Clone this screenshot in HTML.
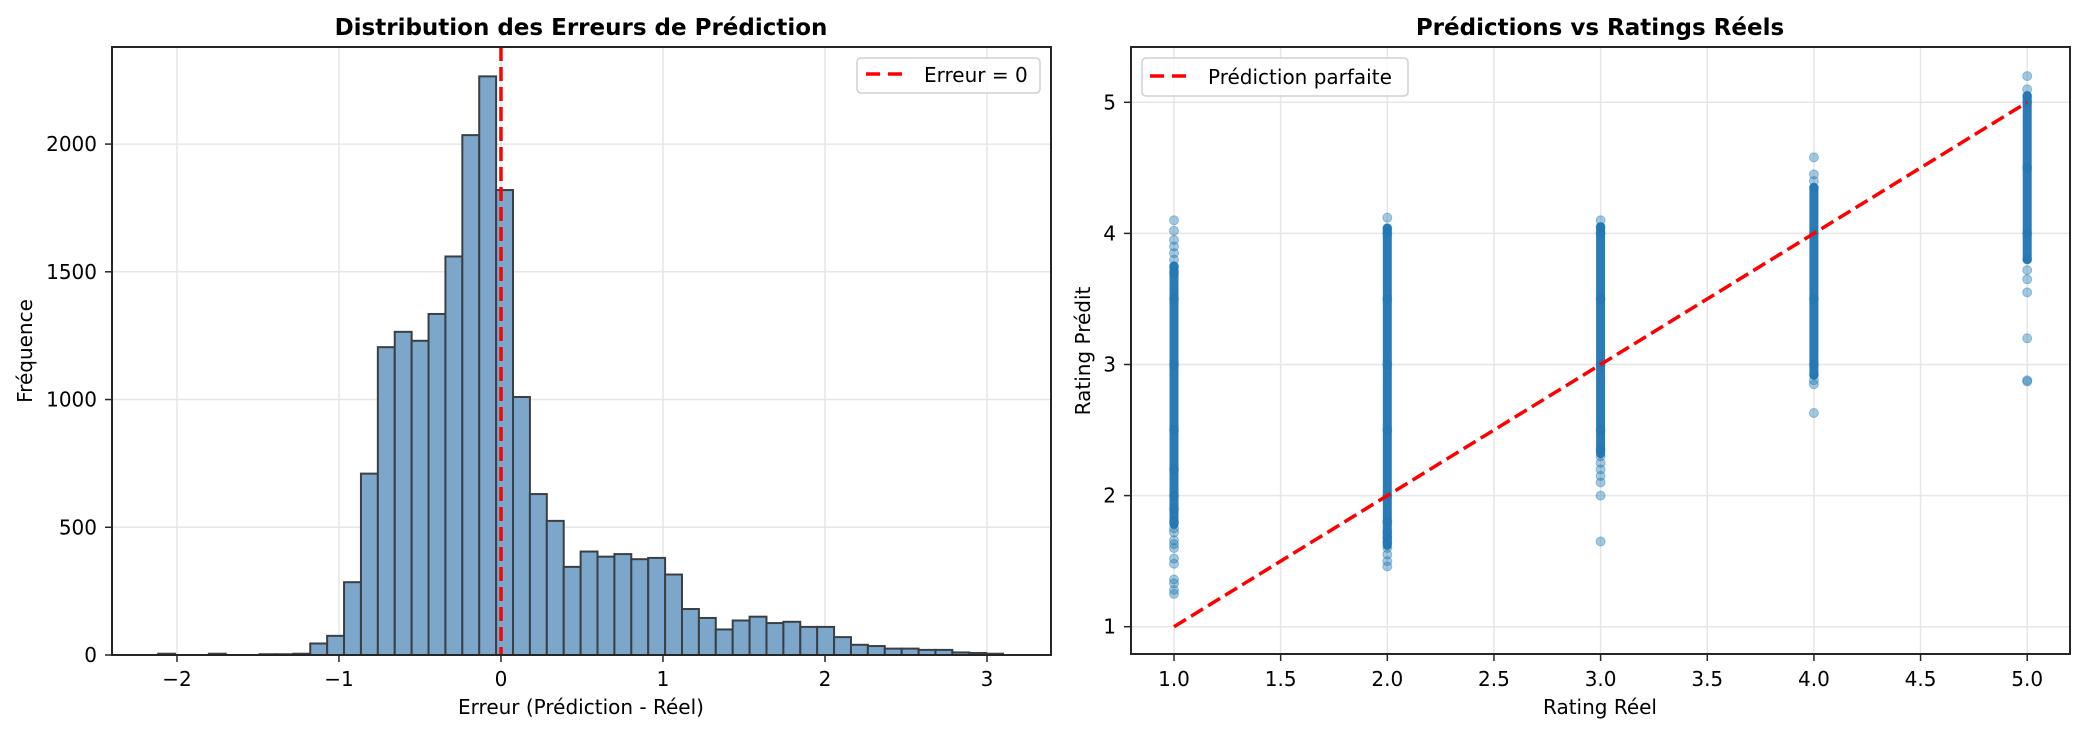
<!DOCTYPE html>
<html><head><meta charset="utf-8"><style>
body{margin:0;background:#fff;}
svg{display:block;font-family:"DejaVu Sans","Liberation Sans",sans-serif;}
</style></head><body>
<svg id="fig" width="2084" height="734" viewBox="0 0 2084 734"></svg>
<script>
// ---------- Histogram data ----------
const histBinStart = -2.116;
const histBinWidth = 0.1043;
const histCounts = [5,0,0,5,0,0,3,3,5,45,75,285,710,1205,1265,1230,1335,1560,2035,2265,1820,1010,630,525,345,405,385,395,375,380,315,180,145,100,135,150,125,130,110,110,70,40,35,25,25,20,20,10,8,5];
const histXTicks = [-2,-1,0,1,2,3];
const histYTicks = [0,500,1000,1500,2000];
// ---------- Scatter data ----------
const ratings = [1,2,3,4,5];
const coreLow = [1.78,1.62,2.32,2.92,3.8];
const coreHigh = [3.75,4.04,4.05,4.35,5.05];
const predR1 = [1.25,1.28,1.33,1.36,1.48,1.52,1.6,1.63,1.66,1.72,1.75,1.8,1.9,2.0,2.2,2.5,3.0,3.5,3.7,3.75,3.8,3.85,3.9,3.95,4.02,4.1];
const predR2 = [1.46,1.5,1.55,1.6,1.64,1.68,1.72,1.8,2.0,2.5,3.0,3.5,4.0,4.04,4.12];
const predR3 = [1.65,2.0,2.1,2.15,2.2,2.25,2.3,2.35,2.5,3.0,3.5,4.0,4.05,4.1];
const predR4 = [2.63,2.85,2.88,2.92,3.0,3.5,4.0,4.35,4.4,4.45,4.58];
const predR5 = [2.87,2.88,3.2,3.55,3.65,3.72,3.8,4.0,4.5,5.0,5.05,5.1,5.2];
const predByRating = [predR1,predR2,predR3,predR4,predR5];
const scXTicks = [1.0,1.5,2.0,2.5,3.0,3.5,4.0,4.5,5.0];
const scYTicks = [1,2,3,4,5];
const perfectLine = [1,5];

const NS="http://www.w3.org/2000/svg";
const svg=document.getElementById('fig');
function mk(tag,attrs,parent){const e=document.createElementNS(NS,tag);for(const k in attrs)e.setAttribute(k,attrs[k]);(parent||svg).appendChild(e);return e;}
function txt(s,attrs,parent){const e=mk('text',attrs,parent);e.textContent=s;return e;}

// ---------- Left panel ----------
const L={x0:112,x1:1051,y0:47,y1:655};
const hx=v=>L.x0+(v-(-2.401))/(3.395-(-2.401))*(L.x1-L.x0);
const hy=v=>L.y1-v/2380*(L.y1-L.y0);
const gL=mk('g',{});


histXTicks.forEach(t=>{const l=mk('line',{x1:hx(t),x2:hx(t),y1:L.y0,y2:L.y1,stroke:'#e6e6e6','stroke-width':1.5},gL);
});
histYTicks.forEach(t=>{const l=mk('line',{x1:L.x0,x2:L.x1,y1:hy(t),y2:hy(t),stroke:'#e6e6e6','stroke-width':1.5},gL);
});
histCounts.forEach((c,i)=>{
  if(c<=0)return;
  const a=histBinStart+i*histBinWidth,b=a+histBinWidth;
  const r=mk('rect',{x:hx(a),y:hy(c),width:hx(b)-hx(a),height:hy(0)-hy(c),fill:'#7da6cb',stroke:'#3a3f44','stroke-width':2},gL);
  
  
});
const zl=mk('line',{x1:hx(0),x2:hx(0),y1:L.y0,y2:L.y1,stroke:'#ff0000','stroke-width':3.5,'stroke-dasharray':'14 6'},gL);


const spL=mk('rect',{x:L.x0,y:L.y0,width:L.x1-L.x0,height:L.y1-L.y0,fill:'none',stroke:'#262626','stroke-width':2},gL);


histXTicks.forEach(t=>{mk('line',{x1:hx(t),x2:hx(t),y1:L.y1,y2:L.y1+7,stroke:'#262626','stroke-width':1.5},gL);
 const e=txt(t<0?'\u2212'+(-t):String(t),{x:hx(t),y:686,'font-size':20,'text-anchor':'middle',fill:'#000'},gL);
 });
histYTicks.forEach(t=>{mk('line',{x1:L.x0-7,x2:L.x0,y1:hy(t),y2:hy(t),stroke:'#262626','stroke-width':1.5},gL);
 const e=txt(String(t),{x:97,y:hy(t)+7,'font-size':20,'text-anchor':'end',fill:'#000'},gL);
 });

let e=txt('Distribution des Erreurs de Prédiction',{x:581,y:35,'font-size':23,'font-weight':'bold','text-anchor':'middle'});

e=txt('Erreur (Prédiction - Réel)',{x:581,y:714,'font-size':20,'text-anchor':'middle'});

e=txt('Fréquence',{x:0,y:0,'font-size':20,'text-anchor':'middle',transform:'translate(32,351) rotate(-90)'});

const lg=mk('g',{});


mk('rect',{x:857,y:58,width:183,height:35,rx:4,fill:'#fff','fill-opacity':0.8,stroke:'#d0d0d0','stroke-width':1.5},lg);
mk('line',{x1:866,x2:903,y1:74,y2:74,stroke:'#ff0000','stroke-width':3.5,'stroke-dasharray':'14 8'},lg);
e=txt('Erreur = 0',{x:924,y:82,'font-size':20},lg);


// ---------- Right panel ----------
const R={x0:1131,x1:2070,y0:47,y1:654};
const sx=v=>1174+(v-1)*213.3;
const sy=v=>626.7-(v-1)*131.1;
const g=mk('g',{});


scXTicks.forEach(t=>{mk('line',{x1:sx(t),x2:sx(t),y1:R.y0,y2:R.y1,stroke:'#e6e6e6','stroke-width':1.5},g);});
scYTicks.forEach(t=>{mk('line',{x1:R.x0,x2:R.x1,y1:sy(t),y2:sy(t),stroke:'#e6e6e6','stroke-width':1.5},g);});
ratings.forEach((r,i)=>{
  const s=mk('rect',{x:sx(r)-4.5,y:sy(coreHigh[i])-4.5,width:9,height:sy(coreLow[i])-sy(coreHigh[i])+9,rx:4.5,fill:'#2a7bb6'},g);
  
  
  predByRating[i].forEach(p=>{
    const c=mk('circle',{cx:sx(r),cy:sy(p),r:4.5,fill:'#1f77b4','fill-opacity':0.4,stroke:'#1f77b4','stroke-opacity':0.4,'stroke-width':1},g);
    
    
  });
});
const pl=mk('line',{x1:sx(perfectLine[0]),y1:sy(perfectLine[0]),x2:sx(perfectLine[1]),y2:sy(perfectLine[1]),stroke:'#ff0000','stroke-width':3.5,'stroke-dasharray':'14 6'},g);


const sp=mk('rect',{x:R.x0,y:R.y0,width:R.x1-R.x0,height:R.y1-R.y0,fill:'none',stroke:'#262626','stroke-width':2},g);


scXTicks.forEach(t=>{mk('line',{x1:sx(t),x2:sx(t),y1:R.y1,y2:R.y1+7,stroke:'#262626','stroke-width':1.5},g);
 const e=txt(t.toFixed(1),{x:sx(t),y:686,'font-size':20,'text-anchor':'middle'},g);
 });
scYTicks.forEach(t=>{mk('line',{x1:R.x0-7,x2:R.x0,y1:sy(t),y2:sy(t),stroke:'#262626','stroke-width':1.5},g);
 const e=txt(String(t),{x:1116,y:sy(t)+7,'font-size':20,'text-anchor':'end'},g);
 });
e=txt('Prédictions vs Ratings Réels',{x:1600,y:35,'font-size':23,'font-weight':'bold','text-anchor':'middle'});

e=txt('Rating Réel',{x:1600,y:714,'font-size':20,'text-anchor':'middle'});

e=txt('Rating Prédit',{x:0,y:0,'font-size':20,'text-anchor':'middle',transform:'translate(1090,351) rotate(-90)'});

const lg2=mk('g',{});


mk('rect',{x:1142,y:58,width:266,height:38,rx:4,fill:'#fff','fill-opacity':0.8,stroke:'#d0d0d0','stroke-width':1.5},lg2);
mk('line',{x1:1150,x2:1187,y1:76,y2:76,stroke:'#ff0000','stroke-width':3.5,'stroke-dasharray':'14 8'},lg2);
e=txt('Prédiction parfaite',{x:1208,y:84,'font-size':20},lg2);

</script>
</body></html>
